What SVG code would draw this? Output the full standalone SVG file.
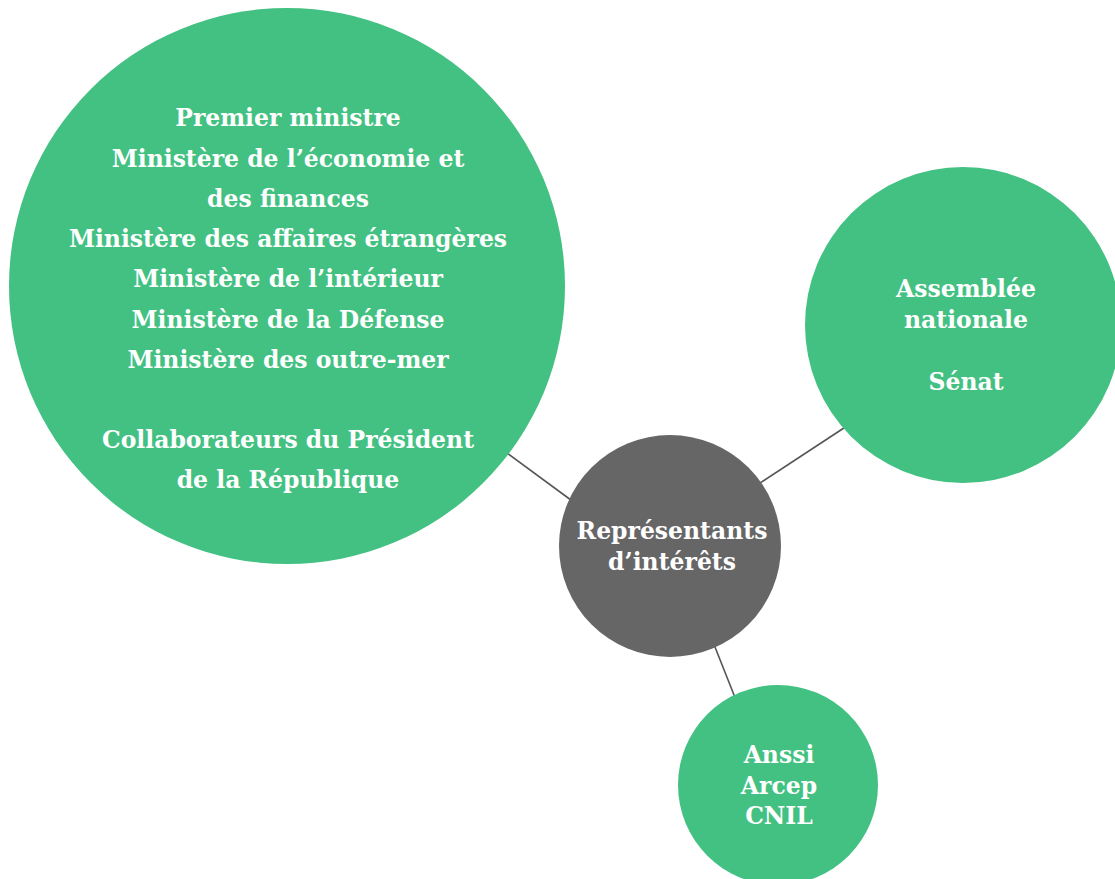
<svg xmlns="http://www.w3.org/2000/svg" width="1115" height="879" viewBox="0 0 1115 879">
<style>
.g{fill:#43c182}
.d{fill:#666666}
.t{font-family:"DejaVu Serif","Liberation Serif",serif;font-weight:bold;font-size:23.5px;fill:#ffffff;text-anchor:middle}
.c{stroke:#555555;stroke-width:1.6;fill:none}
</style>
<rect width="1115" height="879" fill="#ffffff"/>
<g id="connectors">
<line class="c" x1="500" y1="448" x2="575" y2="503"/>
<line class="c" x1="850" y1="424" x2="757" y2="485"/>
<line class="c" x1="713" y1="642" x2="736" y2="700"/>
</g>
<g id="node-ministeres">
<circle class="g" cx="287" cy="286" r="278"/>
<text class="t" x="288" y="126">Premier ministre</text>
<text class="t" x="288" y="167">Ministère de l’économie et</text>
<text class="t" x="288" y="207">des finances</text>
<text class="t" x="288" y="247">Ministère des affaires étrangères</text>
<text class="t" x="288" y="287">Ministère de l’intérieur</text>
<text class="t" x="288" y="328">Ministère de la Défense</text>
<text class="t" x="288" y="368">Ministère des outre-mer</text>
<text class="t" x="288" y="448">Collaborateurs du Président</text>
<text class="t" x="288" y="488">de la République</text>
</g>
<g id="node-parlement">
<circle class="g" cx="963" cy="325" r="158"/>
<text class="t" x="966" y="297">Assemblée</text>
<text class="t" x="966" y="328">nationale</text>
<text class="t" x="966" y="390">Sénat</text>
</g>
<g id="node-representants">
<circle class="d" cx="670" cy="546" r="111"/>
<text class="t" x="672" y="539">Représentants</text>
<text class="t" x="672" y="570">d’intérêts</text>
</g>
<g id="node-autorites">
<circle class="g" cx="778" cy="785" r="100"/>
<text class="t" x="779" y="763">Anssi</text>
<text class="t" x="779" y="794">Arcep</text>
<text class="t" x="779" y="824">CNIL</text>
</g>
</svg>
